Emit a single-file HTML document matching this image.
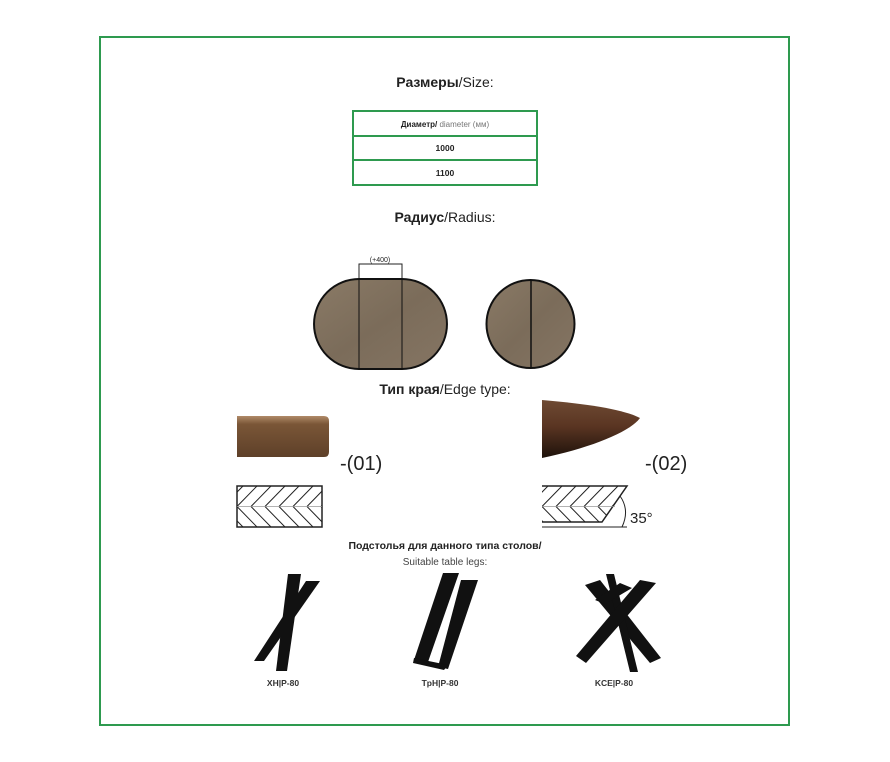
<!DOCTYPE html>
<html><head><meta charset="utf-8"><style>
body{margin:0;background:#fff;width:890px;height:762px;overflow:hidden}
svg{display:block}
text{font-family:"Liberation Sans","DejaVu Sans",sans-serif}
</style></head><body>
<svg width="890" height="762" viewBox="0 0 890 762">
<defs>
<linearGradient id="w" x1="0" y1="0" x2="1" y2="1">
<stop offset="0" stop-color="#8a7a66"/><stop offset="0.5" stop-color="#7b6c5a"/><stop offset="1" stop-color="#857563"/></linearGradient>
<linearGradient id="b1" x1="0" y1="0" x2="0" y2="1">
<stop offset="0" stop-color="#b08a68"/><stop offset="0.2" stop-color="#7a5637"/><stop offset="1" stop-color="#5e4029"/></linearGradient>
<linearGradient id="b2" x1="0" y1="0" x2="0" y2="1">
<stop offset="0" stop-color="#6e4a33"/><stop offset="0.45" stop-color="#5a3522"/><stop offset="1" stop-color="#1e120b"/></linearGradient>
<clipPath id="c1"><rect x="237" y="486" width="85" height="41"/></clipPath>
<clipPath id="c2"><polygon points="542,486 627,486 602,522 542,522"/></clipPath>
<g id="chev">
<path d="M0 20.5 L20 0 M14 20.5 L34 0 M28 20.5 L48 0 M42 20.5 L62 0 M56 20.5 L76 0 M70 20.5 L90 0 M84 20.5 L104 0 M-14 20.5 L6 0 M0 20.5 L20 41 M14 20.5 L34 41 M28 20.5 L48 41 M42 20.5 L62 41 M56 20.5 L76 41 M70 20.5 L90 41 M84 20.5 L104 41 M-14 20.5 L6 41" fill="none" stroke="#222" stroke-width="1"/>
</g>
</defs>
<rect x="100" y="37" width="689" height="688" fill="none" stroke="#2e9a4f" stroke-width="2"/>
<text x="445" y="87" text-anchor="middle" font-size="14" fill="#222"><tspan font-weight="bold">Размеры</tspan>/Size:</text>
<g fill="none" stroke="#2e9a4f" stroke-width="2">
<rect x="353" y="111" width="184" height="74"/>
<line x1="353" y1="136" x2="537" y2="136"/><line x1="353" y1="160" x2="537" y2="160"/>
</g>
<text x="445" y="127" text-anchor="middle" font-size="8" fill="#222"><tspan font-weight="bold">Диаметр/</tspan><tspan fill="#777"> diameter (мм)</tspan></text>
<text x="445" y="151" text-anchor="middle" font-size="8.5" font-weight="bold" fill="#222">1000</text>
<text x="445" y="176" text-anchor="middle" font-size="8.5" font-weight="bold" fill="#222">1100</text>
<text x="445" y="222" text-anchor="middle" font-size="14" fill="#222"><tspan font-weight="bold">Радиус</tspan>/Radius:</text>
<rect x="359" y="264" width="43" height="16" fill="none" stroke="#222" stroke-width="1"/>
<text x="380" y="262" text-anchor="middle" font-size="7" fill="#222">(+400)</text>
<path d="M359 279 H402 A45 45 0 0 1 402 369 H359 A45 45 0 0 1 359 279Z" fill="url(#w)" stroke="#111" stroke-width="2"/>
<line x1="359" y1="279" x2="359" y2="369" stroke="#111" stroke-width="1"/>
<line x1="402" y1="279" x2="402" y2="369" stroke="#111" stroke-width="1"/>
<circle cx="530.5" cy="324" r="44" fill="url(#w)" stroke="#111" stroke-width="2"/>
<line x1="531" y1="280" x2="531" y2="368" stroke="#111" stroke-width="1.5"/>
<text x="445" y="394" text-anchor="middle" font-size="14" fill="#222"><tspan font-weight="bold">Тип края</tspan>/Edge type:</text>
<path d="M237 416 H324 Q329 416 329 421 V452 Q329 457 324 457 H237Z" fill="url(#b1)"/>
<text x="340" y="470" font-size="20" fill="#222">-(01)</text>
<path d="M542 400 C590 404 625 410 640 418 C630 432 590 448 542 458Z" fill="url(#b2)"/>
<text x="645" y="470" font-size="20" fill="#222">-(02)</text>
<g clip-path="url(#c1)"><use href="#chev" x="237" y="486"/></g>
<rect x="237" y="486" width="85" height="41" fill="none" stroke="#222" stroke-width="1.5"/>
<line x1="237" y1="506.5" x2="322" y2="506.5" stroke="#999" stroke-width="0.8"/>
<g clip-path="url(#c2)"><use href="#chev" x="542" y="486"/></g>
<g stroke="#222" fill="none">
<path d="M542 486 H627 L602 522 H542" stroke-width="1.5"/>
<path d="M542 527 H627" stroke-width="1"/>
<path d="M620 496 Q630 510 622 527" stroke-width="1"/>
</g>
<line x1="542" y1="506.5" x2="615" y2="506.5" stroke="#999" stroke-width="0.8"/>
<text x="630" y="523" font-size="15" fill="#222">35°</text>
<text x="445" y="549" text-anchor="middle" font-size="10.5" font-weight="bold" fill="#222">Подстолья для данного типа столов/</text>
<text x="445" y="565" text-anchor="middle" font-size="10" fill="#444">Suitable table legs:</text>
<g fill="#111">
<polygon points="288,574 301,574 287,671 276,671"/>
<polygon points="306,581 320,581 264,661 254,661"/>
<polygon points="443,573 459,573 428,662 414,660"/>
<polygon points="461,580 478,580 448,669 438,667"/>
<polygon points="414,658 448,665 444,670 413,663"/>
<polygon points="585,585 600,580 661,658 650,663"/>
<polygon points="606,574 614,574 638,672 630,672"/>
<polygon points="640,580 656,583 586,663 576,656"/>
<polygon points="595,600 620,583 632,588 605,604"/>
</g>
<text x="283" y="686" text-anchor="middle" font-size="8.5" font-weight="bold" fill="#333">XH|P-80</text>
<text x="440" y="686" text-anchor="middle" font-size="8.5" font-weight="bold" fill="#333">TpH|P-80</text>
<text x="614" y="686" text-anchor="middle" font-size="8.5" font-weight="bold" fill="#333">KCE|P-80</text>
</svg>
</body></html>
